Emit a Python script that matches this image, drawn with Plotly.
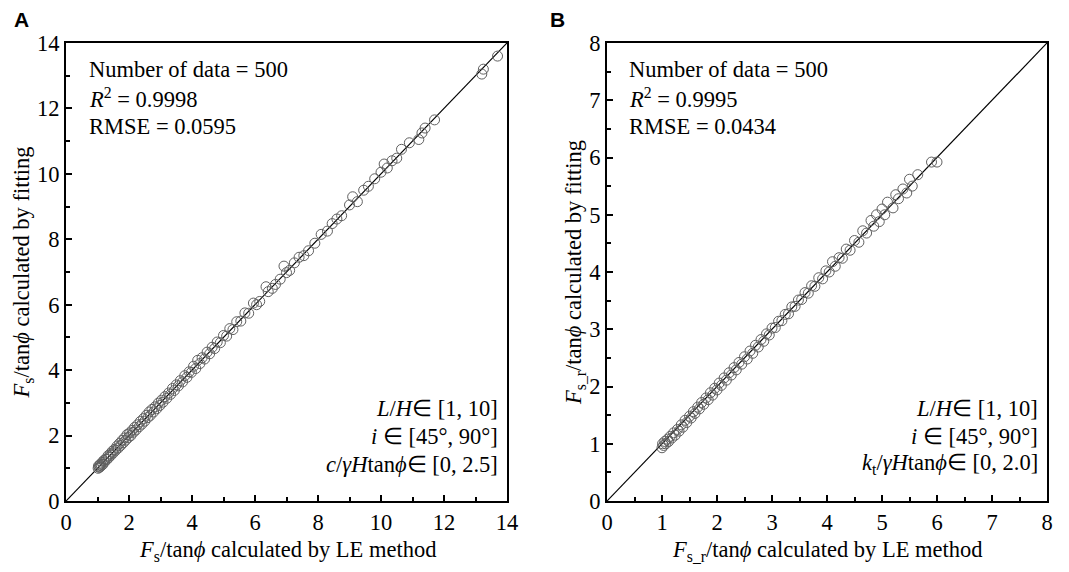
import plotly.graph_objects as go

# Panel A: Fs/tan(phi) — LE method (x) vs fitting (y)
a_le = [1.02,1.03,1.05,1.07,1.08,1.10,1.12,1.15,1.17,1.20,1.22,1.26,1.30,1.33,1.36,1.40,1.43,1.47,1.50,1.54,
        1.58,1.62,1.66,1.70,1.74,1.78,1.82,1.86,1.90,1.94,1.98,2.02,2.06,2.10,2.14,2.18,2.22,2.27,2.32,2.36,
        2.41,2.46,2.50,2.55,2.60,2.64,2.68,2.73,2.78,2.83,2.88,2.93,2.98,3.03,3.08,3.14,3.20,3.26,3.32,3.38,
        3.44,3.50,3.57,3.63,3.70,3.77,3.84,3.91,3.98,4.05,4.12,4.18,4.25,4.32,4.40,4.48,4.56,4.64,4.72,4.80,
        4.90,5.00,5.10,5.20,5.30,5.42,5.55,5.68,5.80,5.95,6.05,6.15,6.35,6.42,6.55,6.65,6.80,6.92,7.00,7.10,
        7.25,7.40,7.55,7.70,7.90,8.10,8.30,8.45,8.60,8.75,9.00,9.10,9.25,9.45,9.60,9.80,10.00,10.10,10.20,10.35,
        10.50,10.65,10.90,11.20,11.30,11.40,11.70,13.20,13.25,13.70]
a_fit = [1.00,1.07,1.03,1.10,1.04,1.13,1.08,1.18,1.12,1.24,1.19,1.28,1.27,1.38,1.33,1.44,1.40,1.52,1.47,1.58,
         1.55,1.68,1.62,1.76,1.70,1.85,1.78,1.93,1.86,2.03,1.94,2.08,2.00,2.16,2.10,2.25,2.17,2.33,2.27,2.43,
         2.35,2.52,2.44,2.62,2.55,2.72,2.62,2.80,2.72,2.88,2.82,2.99,2.92,3.08,3.02,3.19,3.14,3.30,3.26,3.44,
         3.38,3.55,3.52,3.68,3.64,3.83,3.78,3.95,3.93,4.12,4.05,4.30,4.20,4.38,4.34,4.55,4.50,4.70,4.66,4.86,
         4.84,5.06,5.04,5.27,5.24,5.48,5.50,5.75,5.74,6.05,6.00,6.10,6.55,6.40,6.50,6.62,6.78,7.18,6.98,7.05,
         7.28,7.45,7.50,7.65,7.88,8.15,8.25,8.48,8.62,8.72,9.05,9.30,9.15,9.50,9.62,9.85,10.05,10.30,10.18,10.40,
         10.48,10.75,10.95,11.05,11.25,11.40,11.65,13.05,13.20,13.60]

# Panel B: Fs_r/tan(phi) — LE method (x) vs fitting (y)
b_le = [1.00,1.01,1.03,1.05,1.07,1.10,1.12,1.15,1.18,1.21,1.24,1.28,1.31,1.35,1.38,1.42,1.45,1.50,1.53,1.57,
        1.60,1.65,1.68,1.72,1.76,1.80,1.84,1.88,1.92,1.96,2.00,2.04,2.08,2.13,2.17,2.22,2.26,2.31,2.35,2.40,
        2.45,2.50,2.55,2.60,2.65,2.70,2.75,2.80,2.85,2.90,2.95,3.00,3.06,3.12,3.18,3.24,3.30,3.36,3.42,3.48,
        3.54,3.60,3.66,3.72,3.78,3.85,3.92,3.98,4.04,4.10,4.15,4.22,4.28,4.35,4.42,4.50,4.58,4.65,4.72,4.80,
        4.85,4.90,4.95,5.00,5.05,5.10,5.20,5.25,5.30,5.38,5.45,5.50,5.55,5.65,5.90,6.00]
b_fit = [0.93,1.00,0.97,1.04,1.00,1.08,1.04,1.13,1.10,1.19,1.15,1.25,1.22,1.33,1.29,1.41,1.37,1.48,1.45,1.56,
         1.53,1.64,1.61,1.72,1.69,1.80,1.77,1.89,1.85,1.97,1.94,2.06,2.02,2.15,2.11,2.24,2.20,2.33,2.29,2.42,
         2.39,2.52,2.48,2.62,2.58,2.72,2.69,2.82,2.79,2.92,2.90,3.02,3.03,3.14,3.15,3.26,3.27,3.39,3.40,3.51,
         3.52,3.64,3.63,3.76,3.75,3.90,3.88,4.02,4.00,4.18,4.10,4.25,4.24,4.40,4.38,4.55,4.52,4.72,4.68,4.90,
         4.80,5.00,4.88,5.10,5.00,5.22,5.12,5.35,5.28,5.45,5.38,5.62,5.50,5.70,5.92,5.92]

diag_a = [0, 14]
diag_b = [0, 8]
a_ticks = [0, 2, 4, 6, 8, 10, 12, 14]
b_ticks = [0, 1, 2, 3, 4, 5, 6, 7, 8]

SERIF = "Liberation Serif, Times New Roman, serif"
FS = 22.5
marker = dict(symbol="circle-open", size=10, color="#606060", line=dict(width=1, color="#606060"))

fig = go.Figure()
fig.add_trace(go.Scatter(x=diag_a, y=diag_a, mode="lines", line=dict(color="black", width=1.2),
                         xaxis="x", yaxis="y", showlegend=False))
fig.add_trace(go.Scatter(x=a_le, y=a_fit, mode="markers", marker=marker, xaxis="x", yaxis="y", showlegend=False))
fig.add_trace(go.Scatter(x=diag_b, y=diag_b, mode="lines", line=dict(color="black", width=1.2),
                         xaxis="x2", yaxis="y2", showlegend=False))
fig.add_trace(go.Scatter(x=b_le, y=b_fit, mode="markers", marker=marker, xaxis="x2", yaxis="y2", showlegend=False))

# the page body has an 8px margin; size the figure to fit inside the 1069x572 window
OFF = 8
W, H = 1069 - 2 * OFF, 572 - 2 * OFF
def px(x): return (x - OFF) / W
def py(y): return 1 - (y - OFF) / H

axis_common = dict(showline=True, linecolor="black", linewidth=2, mirror=True, ticks="inside",
                   ticklen=6, tickwidth=2, tickcolor="black", showgrid=False, zeroline=False,
                   automargin=False,
                   tickfont=dict(family=SERIF, size=FS, color="black"),
                   title_font=dict(family=SERIF, size=FS, color="black"))

def minor(d):
    return dict(ticks="inside", ticklen=4, tickwidth=2, tickcolor="black", dtick=d, showgrid=False)

fig.update_layout(
    width=W, height=H, margin=dict(l=0, r=0, t=0, b=0),
    paper_bgcolor="white", plot_bgcolor="white",
    xaxis=dict(axis_common, domain=[px(66), px(507)], range=[0, 14], tickvals=a_ticks, minor=minor(1),
               anchor="y"),
    yaxis=dict(axis_common, domain=[py(501), py(43)], range=[0, 14], tickvals=a_ticks, minor=minor(1),
               anchor="x", title=dict(text="<i>F</i><sub>s</sub>/tan<i>ϕ</i> calculated by fitting", standoff=1)),
    xaxis2=dict(axis_common, domain=[px(607), px(1047)], range=[0, 8], tickvals=b_ticks, minor=minor(0.5),
                anchor="y2"),
    yaxis2=dict(axis_common, domain=[py(501), py(43)], range=[0, 8], tickvals=b_ticks, minor=minor(0.5),
                anchor="x2", title=dict(text="<i>F</i><sub>s_r</sub>/tan<i>ϕ</i> calculated by fitting", standoff=1)),
)

ann_font = dict(family=SERIF, size=FS, color="black")
def add_text(xp, yp, text, anchor="left"):
    fig.add_annotation(x=px(xp), y=py(yp), xref="paper", yref="paper", text=text, showarrow=False,
                       xanchor=anchor, yanchor="middle", font=ann_font)

# x-axis titles
add_text(287, 551, "<i>F</i><sub>s</sub>/tan<i>ϕ</i> calculated by LE method", "center")
add_text(827, 551, "<i>F</i><sub>s_r</sub>/tan<i>ϕ</i> calculated by LE method", "center")

# Panel A texts
add_text(87, 70, "Number of data = 500")
add_text(87, 98, "<i>R</i><sup>2</sup> = 0.9998")
add_text(87, 126, "RMSE = 0.0595")
add_text(500, 408, "<i>L</i>/<i>H</i>∈ [1, 10]", "right")
add_text(500, 436, "<i>i</i> ∈ [45°, 90°]", "right")
add_text(500, 464, "<i>c</i>/<i>γH</i>tan<i>ϕ</i>∈ [0, 2.5]", "right")
# Panel B texts
add_text(627, 70, "Number of data = 500")
add_text(627, 98, "<i>R</i><sup>2</sup> = 0.9995")
add_text(627, 126, "RMSE = 0.0434")
add_text(1040, 408, "<i>L</i>/<i>H</i>∈ [1, 10]", "right")
add_text(1040, 436, "<i>i</i> ∈ [45°, 90°]", "right")
add_text(1040, 464, "<i>k</i><sub>t</sub>/<i>γH</i>tan<i>ϕ</i>∈ [0, 2.0]", "right")

# Panel letters
for xp, lab in [(12, "A"), (548, "B")]:
    fig.add_annotation(x=px(xp), y=py(20), xref="paper", yref="paper", text="<b>%s</b>" % lab,
                       showarrow=False, xanchor="left", yanchor="middle",
                       font=dict(family="Liberation Sans, Arial, sans-serif", size=21, color="black"))

fig.write_html("out.html")
